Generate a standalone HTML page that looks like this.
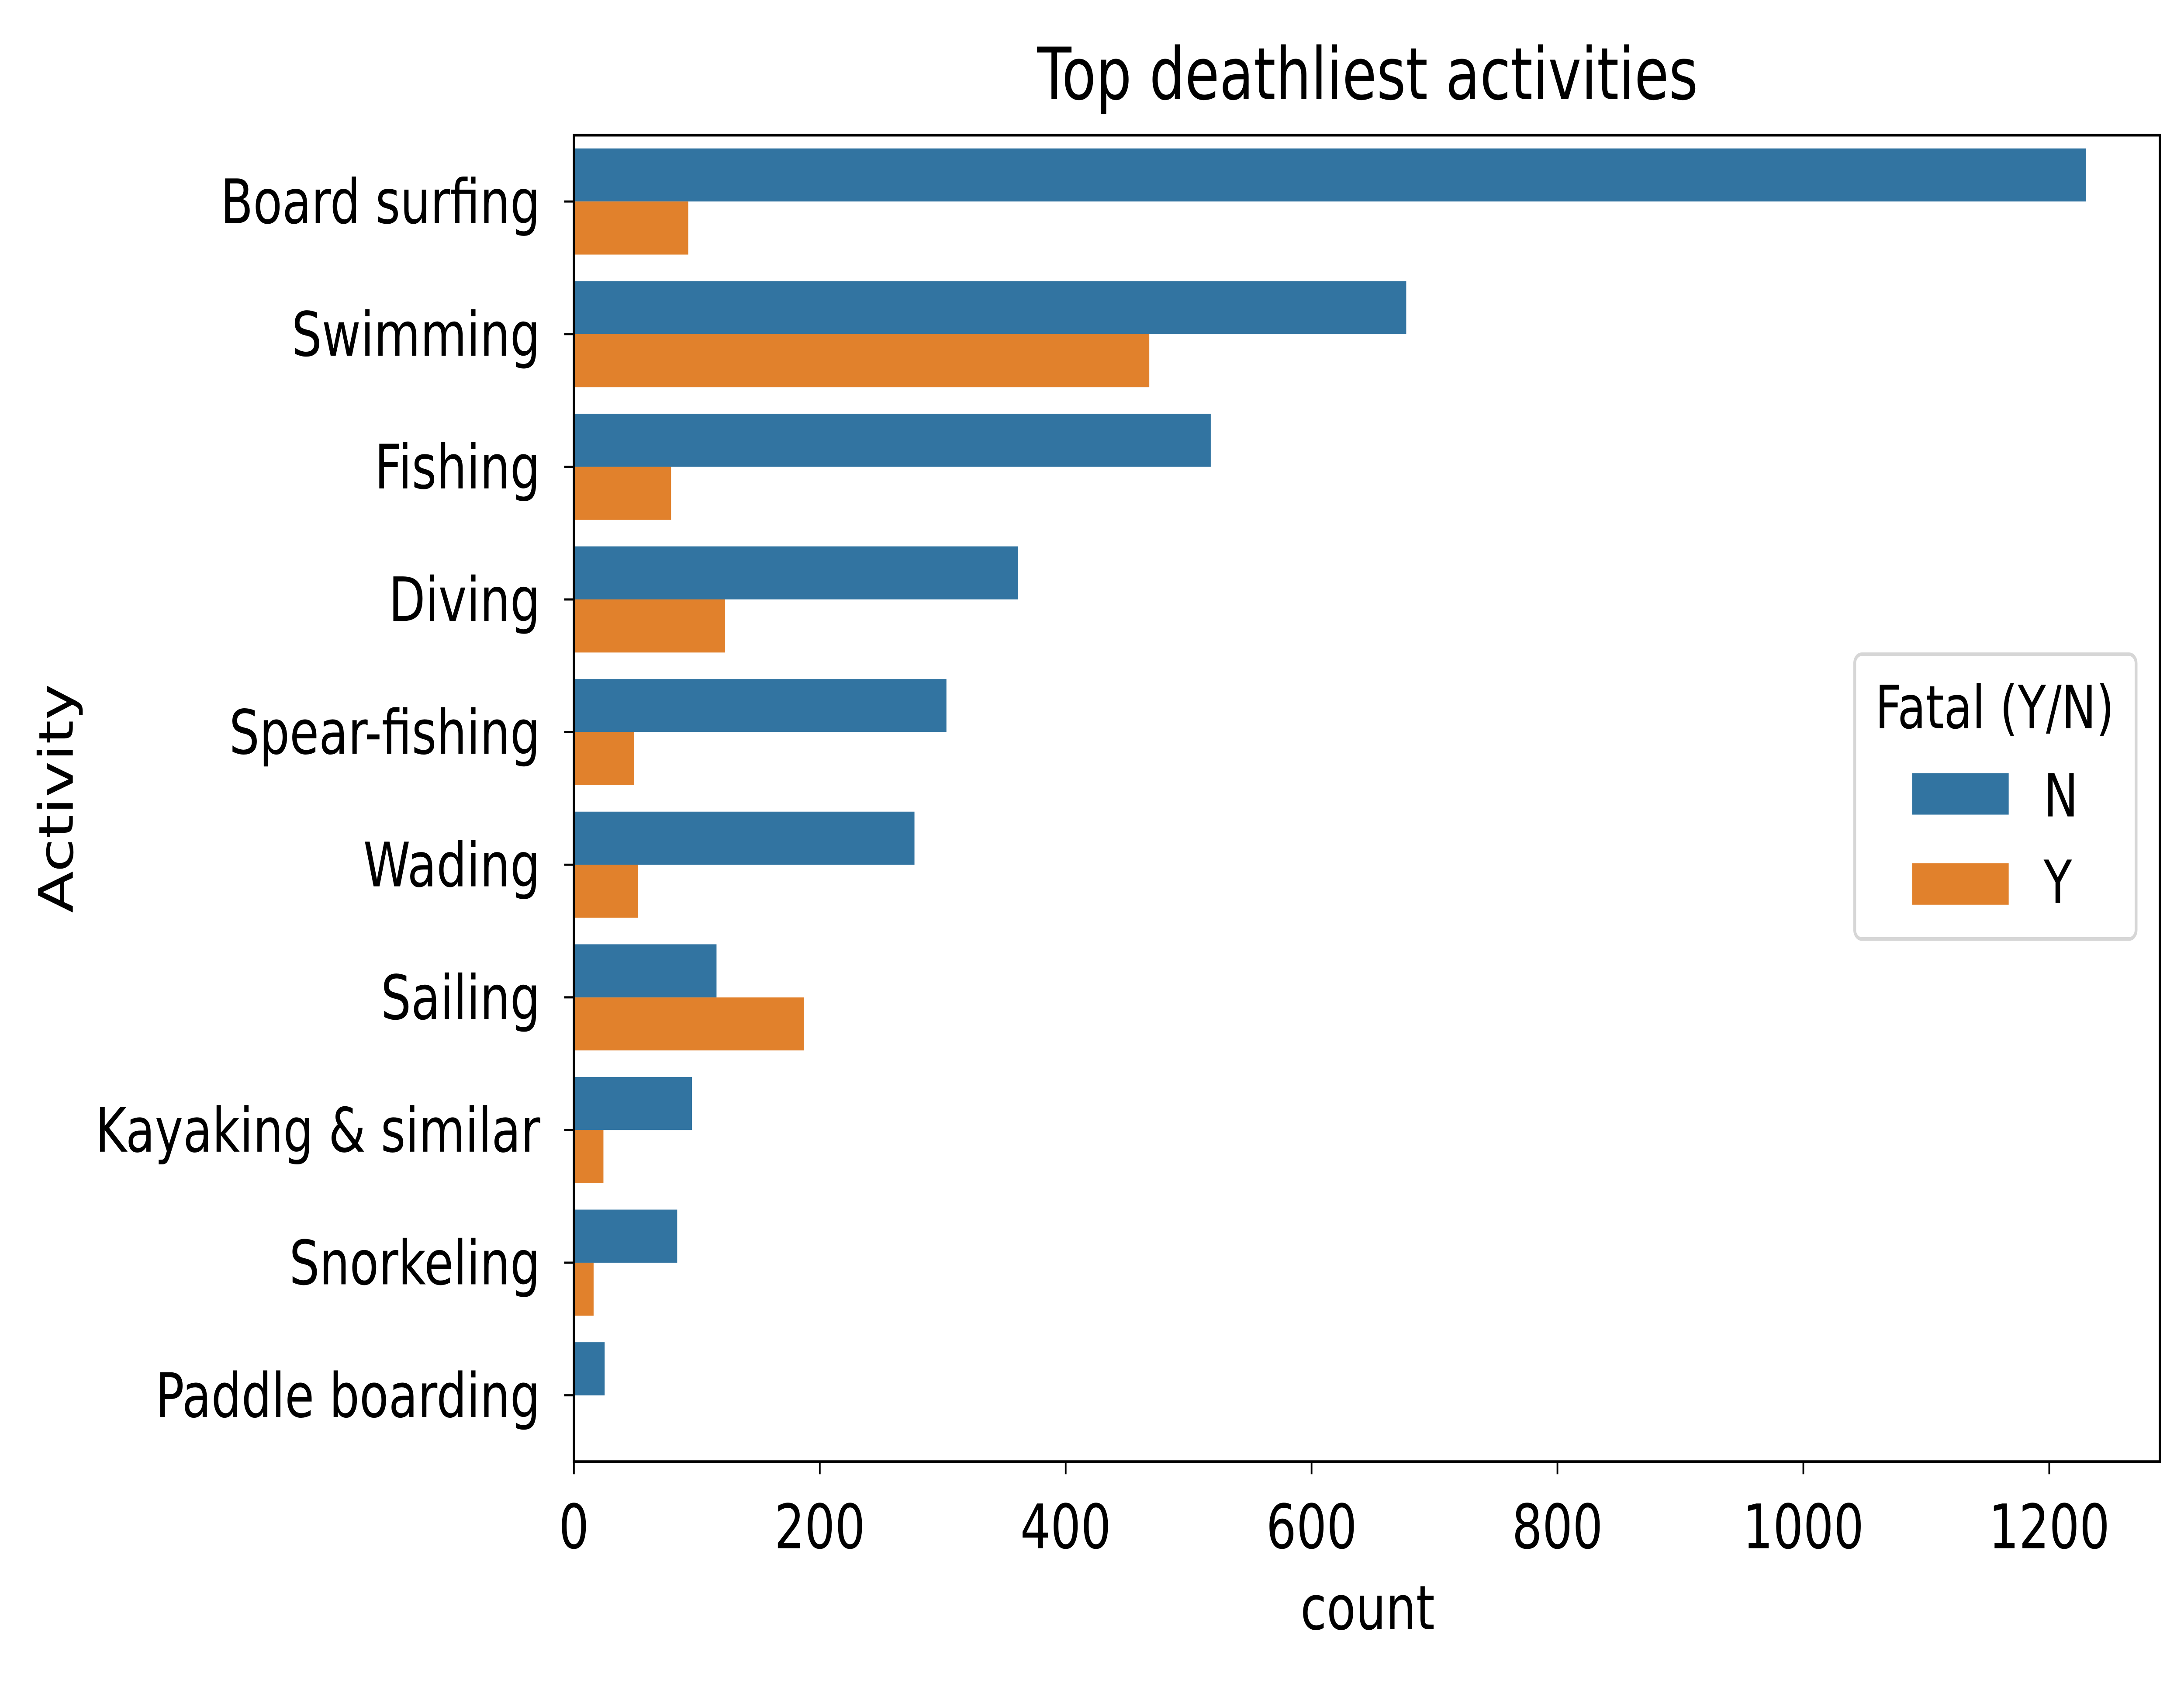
<!DOCTYPE html>
<html><head><meta charset="utf-8"><style>html,body{margin:0;padding:0;background:#fff;width:100%;height:100%;overflow:hidden}svg{display:block;width:100vw;height:100vh}text{font-family:"DejaVu Sans","Liberation Sans",sans-serif}</style></head>
<body>
<svg id="chart" viewBox="0 0 1560.24 933.82" preserveAspectRatio="none" xmlns="http://www.w3.org/2000/svg">
<rect width="1560.24" height="933.82" fill="#fff"/>
<text x="977" y="55" font-size="40" text-anchor="middle">Top deathliest activities</text>
<g id="bars"></g>
<g id="axes"></g>
<g>
<rect x="1325" y="363" width="201" height="158" rx="5" fill="#fff" stroke="#d6d6d6" stroke-width="2"/>
<text x="1425" y="404" font-size="33" text-anchor="middle">Fatal (Y/N)</text>
<rect x="1366" y="429" width="69" height="23" fill="#3274a1"/>
<text x="1460" y="453" font-size="33">N</text>
<rect x="1366" y="479" width="69" height="23" fill="#e1812c"/>
<text x="1460" y="501" font-size="33">Y</text>
</g>
</svg>
<script>
const categories=["Board surfing","Swimming","Fishing","Diving","Spear-fishing","Wading","Sailing","Kayaking & similar","Snorkeling","Paddle boarding"];
const seriesN=[1230,677,518,361,303,277,116,96,84,25];
const seriesY=[93,468,79,123,49,52,187,24,16,0];
const xTicks=[0,200,400,600,800,1000,1200];
const NS="http://www.w3.org/2000/svg";
const L=410,R=1543,T=75,B=811,XMAX=1290;
const x=v=>L+v*(R-L)/XMAX;
const step=(B-T)/categories.length;
const yc=i=>T+step*(i+0.5);
const bw=step*0.4;
const bars=document.getElementById('bars'),axes=document.getElementById('axes');
function mk(tag,attrs,parent){const e=document.createElementNS(NS,tag);for(const k in attrs)e.setAttribute(k,attrs[k]);parent.appendChild(e);return e;}
categories.forEach((c,i)=>{
 const a=mk('rect',{x:x(0),y:yc(i)-bw,width:x(seriesN[i])-x(0),height:bw,fill:'#3274a1'},bars);
 
 
 const b=mk('rect',{x:x(0),y:yc(i),width:x(seriesY[i])-x(0),height:bw,fill:'#e1812c'},bars);
 
 
 mk('line',{x1:L-7,x2:L,y1:yc(i),y2:yc(i),stroke:'#000','stroke-width':1.2},axes);
 const t=mk('text',{x:L-24,y:yc(i)+12,'font-size':34,'text-anchor':'end'},axes);
 t.textContent=c;
 
 
});
xTicks.forEach(v=>{
 mk('line',{x1:x(v),x2:x(v),y1:B,y2:B+7,stroke:'#000','stroke-width':1.2},axes);
 const t=mk('text',{x:x(v),y:859,'font-size':34,'text-anchor':'middle'},axes);
 t.textContent=v;
 
 
});
const f=mk('rect',{x:L,y:T,width:R-L,height:B-T,fill:'none',stroke:'#000','stroke-width':1.5},axes);


const xl=mk('text',{x:977,y:904,'font-size':34,'text-anchor':'middle'},axes);
xl.textContent='count';


const yl=mk('text',{x:0,y:0,'font-size':34,'text-anchor':'middle',transform:'translate(52,443) rotate(-90)'},axes);
yl.textContent='Activity';


</script>
</body></html>
